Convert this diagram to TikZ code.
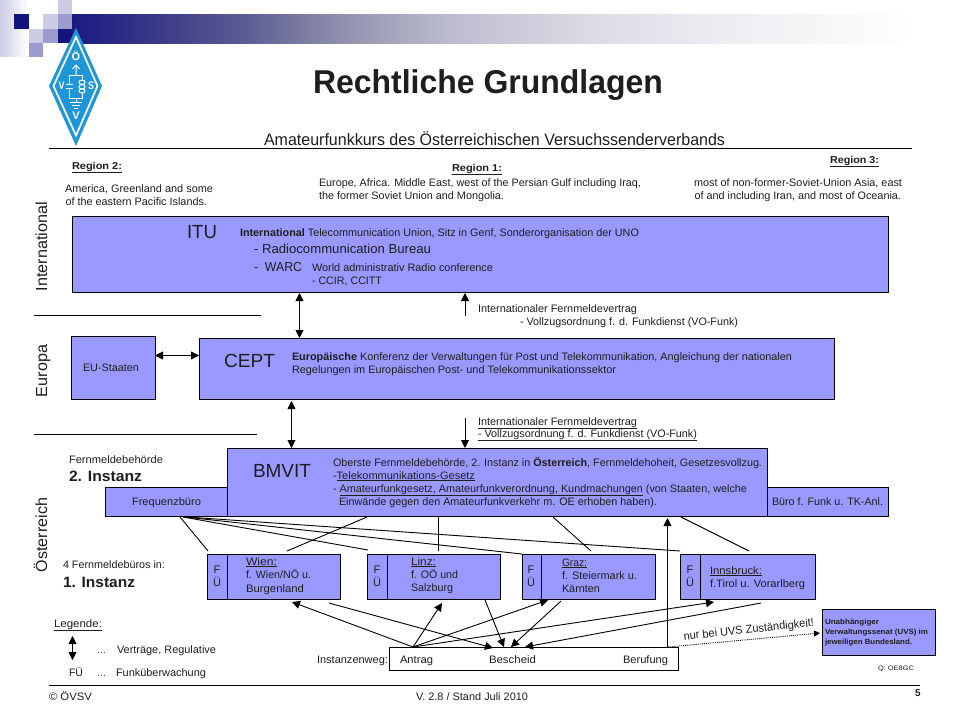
\documentclass[tikz,border=0pt]{standalone}
\usepackage{fontspec}
\usepackage{graphicx}
\setmainfont{Liberation Sans}
\usetikzlibrary{calc,arrows.meta}
\definecolor{boxblue}{HTML}{9999FF}
\definecolor{inktext}{HTML}{1E1E1E}
\definecolor{navy}{HTML}{14147F}
\definecolor{sqlight}{HTML}{CCCCE4}
\definecolor{sqmid}{HTML}{9C9CCE}
\definecolor{logoblue}{HTML}{1E96D8}
\definecolor{ga}{HTML}{1A1A80}
\definecolor{gb}{HTML}{5A5A92}
\definecolor{gc}{HTML}{9494B0}
\definecolor{gd}{HTML}{BCBCCF}
\definecolor{ge}{HTML}{DCDCE6}
\definecolor{gf}{HTML}{F0F0F4}
\pgfdeclarehorizontalshading{barshade}{100bp}{color(0bp)=(ga); color(25bp)=(ga); color(35bp)=(gb); color(41.5bp)=(gc); color(47.5bp)=(gd); color(56bp)=(ge); color(65.5bp)=(gf); color(75bp)=(white); color(100bp)=(white)}
\tikzset{
  boxshape/.style 2 args={draw=black,fill=boxblue,line width=1pt,rectangle,anchor=north west,inner sep=0pt,outer sep=0pt,minimum width=#1pt,minimum height=#2pt},
  txt/.style={anchor=base west,inner sep=0pt,outer sep=0pt,text=inktext},
  fuetext/.style={txt,anchor=base,font=\fontsize{11}{11}\selectfont},
  conn/.style={draw=black,line width=0.9pt},
  arr/.style={conn,-{Triangle[length=8pt,width=8pt]}},
  dbl/.style={conn,{Triangle[length=8pt,width=8pt]}-{Triangle[length=8pt,width=8pt]}},
  rulebar/.style={draw=black,line width=0.9pt},
  logoline/.style={draw=white,line width=1pt},
  logoletter/.style={font=\bfseries\fontsize{11}{11}\selectfont,text=white,inner sep=0pt},
}
% \lb[options]{name}{x}{baseline}{width}{size}{text}
\newcommand\lb[7][]{\node[txt,font=\fontsize{#6}{#6}\selectfont,#1] (#2) at (#3,#4) {\resizebox{#5pt}{\height}{#7}};}
\begin{document}
\begin{tikzpicture}[x=1pt,y=-1pt]
\useasboundingbox (0,0) rectangle (960,720);
\fill[white] (0,0) rectangle (960,720);
% header decoration
\shade[left color=sqlight,right color=white] (0,0) rectangle (28,56);
\fill[white] (14,14) rectangle (58,29);
\fill[navy] (14,14) rectangle (29,29);
\fill[sqlight] (43,14) rectangle (58,29);
\fill[sqlight] (58,0) rectangle (72,14);
\fill[sqmid] (58,14) rectangle (72,29);
\fill[sqlight] (29,29) rectangle (43,43);
\fill[sqmid] (43,29) rectangle (58,43);
\fill[navy] (58,29) rectangle (72,43);
\fill[sqmid] (29,43) rectangle (43,57);
\shade[shading=barshade] (72,14) rectangle (912,43);
% logo
\fill[logoblue] (76,28) -- (102,86) -- (76,146) -- (49,86) -- cycle;
\draw[white,line width=1.7pt] (76,37) -- (97.5,86) -- (76,135.5) -- (53.5,86) -- cycle;
\node[logoletter] (logoO) at (76,56) {Ö};
\node[logoletter] (logoV) at (61.5,86) {\resizebox{6pt}{\height}{V}};
\node[logoletter] (logoS) at (91,86) {\resizebox{6pt}{\height}{S}};
\node[logoletter] (logoW) at (76,116) {V};
\draw[logoline] (76,75) -- (76,65) (72.5,69) -- (76,65) -- (79.5,69);
\draw[logoline] (69,84.5) -- (69,75) -- (82,75) -- (82,80) (82,93) -- (82,98) -- (69,98) -- (69,88);
\draw[logoline] (65.5,84.5) -- (72.5,84.5) (65.5,88) -- (72.5,88);
\draw[logoline] (82,80) .. controls (86,80) and (86,84.5) .. (82,84.5) .. controls (78,84.5) and (78,80) .. (82,80)
  (82,84.5) .. controls (86,84.5) and (86,89) .. (82,89) .. controls (78,89) and (78,84.5) .. (82,84.5)
  (82,89) .. controls (86,89) and (86,93) .. (82,93) .. controls (78,93) and (78,89) .. (82,89);
\draw[logoline] (76,98) -- (76,102) (70,102) -- (82,102) (72,105) -- (80,105) (74,108) -- (78,108);
% title
\lb{title}{313}{93}{350}{33}{\textbf{Rechtliche Grundlagen}}
\lb{subtitle}{264}{145}{461}{16.5}{Amateurfunkkurs des Österreichischen Versuchssenderverbands}
\draw[rulebar] (49,148) -- (912,148);
% regions
\lb{reg2}{72}{169}{50}{10}{\textbf{\underline{Region 2:}}}
\lb{reg2a}{65}{192}{148}{10.8}{America, Greenland and some}
\lb{reg2b}{65.5}{205}{141.5}{10.8}{of the eastern Pacific Islands.}
\lb{reg1}{452}{171}{50}{10}{\textbf{\underline{Region 1:}}}
\lb{reg1a}{319}{186}{322}{10.8}{Europe, Africa. Middle East, west of the Persian Gulf including Iraq,}
\lb{reg1b}{319}{199}{185}{10.8}{the former Soviet Union and Mongolia.}
\lb{reg3}{830}{163}{49}{10}{\textbf{\underline{Region 3:}}}
\lb{reg3a}{694}{186}{208}{10.8}{most of non-former-Soviet-Union Asia, east}
\lb{reg3b}{694.5}{199}{206.5}{10.8}{of and including Iran, and most of Oceania.}
% side labels
\lb[rotate=90]{sideint}{47}{291}{89}{16}{International}
\lb[rotate=90]{sideeu}{47}{397}{52}{16}{Europa}
\lb[rotate=90]{sideat}{47}{572}{74}{16}{Österreich}
\draw[rulebar] (34,315) -- (261,315);
\draw[rulebar] (34,434) -- (257,434);
% boxes
\node[boxshape={816}{76}] (itu) at (72,216) {};
\node[boxshape={84}{63}] (eu) at (71,336) {};
\node[boxshape={635}{61}] (cept) at (199,338) {};
\node[boxshape={122}{29}] (freq) at (105,487) {};
\node[boxshape={121}{29}] (buero) at (767,487) {};
\node[boxshape={540}{68}] (bmvit) at (227,448) {};
\node[boxshape={20}{45}] (wienf) at (207,554) {};
\node[boxshape={113}{45}] (wien) at (227,554) {};
\node[boxshape={20}{45}] (linzf) at (367,554) {};
\node[boxshape={113}{45}] (linz) at (387,554) {};
\node[boxshape={19.5}{45}] (grazf) at (522,554) {};
\node[boxshape={113.5}{45}] (graz) at (541.5,554) {};
\node[boxshape={20}{45}] (innf) at (680,554) {};
\node[boxshape={115}{45}] (inn) at (700,554) {};
\node[boxshape={113}{46}] (uvs) at (822,609) {};
\node[boxshape={289}{23},fill=white] (inst) at (389,647) {};
% ITU text
\lb{itut}{187}{238}{30}{19}{ITU}
\lb{itu1}{240}{236}{399}{10.8}{\textbf{International} Telecommunication Union, Sitz in Genf, Sonderorganisation der UNO}
\lb{itu2}{254}{253}{177}{13}{- Radiocommunication Bureau}
\lb{itu3}{254}{271}{48}{13}{-\ \ WARC}
\lb{itu4}{312}{271}{181}{10.8}{World administrativ Radio conference}
\lb{itu5}{312}{284}{70}{10.8}{- CCIR, CCITT}
\lb{ifv1}{478}{312}{159}{10.8}{Internationaler Fernmeldevertrag}
\lb{ifv2}{520}{325}{218}{10.8}{- Vollzugsordnung f. d. Funkdienst (VO-Funk)}
% CEPT text
\lb{eut}{83}{371}{56}{10.8}{EU-Staaten}
\lb{ceptt}{224}{367}{51}{19}{CEPT}
\lb{cept1}{292}{360}{500}{10.8}{\textbf{Europäische} Konferenz der Verwaltungen für Post und Telekommunikation, Angleichung der nationalen}
\lb{cept2}{292}{373}{324}{10.8}{Regelungen im Europäischen Post- und Telekommunikationssektor}
\lb{ifv3}{478}{425}{159}{10.8}{\underline{Internationaler Fernmeldevertrag}}
\lb{ifv4}{478}{437}{219}{10.8}{\underline{- Vollzugsordnung f. d. Funkdienst (VO-Funk)}}
% Austria text
\lb{fmb}{69}{463}{94}{10.8}{Fernmeldebehörde}
\lb{inst2}{69}{481}{73}{15}{\textbf{2. Instanz}}
\lb{freqt}{132}{505}{69}{10.8}{Frequenzbüro}
\lb{bmvitt}{253}{477}{58}{19}{BMVIT}
\lb{bm1}{333}{466}{429}{10.8}{Oberste Fernmeldebehörde, 2. Instanz in \textbf{Österreich}, Fernmeldehoheit, Gesetzesvollzug.}
\lb{bm2}{333}{479}{142}{10.8}{-\underline{Telekommunikations-Gesetz}}
\lb{bm3}{333}{492}{414}{10.8}{- \underline{Amateurfunkgesetz, Amateurfunkverordnung, Kundmachungen} (von Staaten, welche}
\lb{bm4}{339}{505}{318}{10.8}{Einwände gegen den Amateurfunkverkehr m. OE erhoben haben).}
\lb{bueroT}{772}{505}{111}{10.8}{Büro f. Funk u. TK-Anl.}
\lb{fb4}{63}{568}{102}{10.8}{4 Fernmeldebüros in:}
\lb{inst1}{63}{587}{72}{15}{\textbf{1. Instanz}}
% FUE labels
\node[fuetext] (f1) at (217,573) {F};
\node[fuetext] (u1) at (217,586) {Ü};
\node[fuetext] (f2) at (377,573) {F};
\node[fuetext] (u2) at (377,586) {Ü};
\node[fuetext] (f3) at (531,573) {F};
\node[fuetext] (u3) at (531,586) {Ü};
\node[fuetext] (f4) at (690,573) {F};
\node[fuetext] (u4) at (690,586) {Ü};
\lb{wt1}{246}{565}{31}{10.8}{\underline{Wien:}}
\lb{wt2}{246}{578}{65}{10.8}{f. Wien/NÖ u.}
\lb{wt3}{246}{592}{58}{10.8}{Burgenland}
\lb{lt1}{411}{565}{25}{10.8}{\underline{Linz:}}
\lb{lt2}{411}{578}{47}{10.8}{f. OÖ und}
\lb{lt3}{411}{591}{42}{10.8}{Salzburg}
\lb{gt1}{562}{566}{25}{10.8}{\underline{Graz:}}
\lb{gt2}{562}{579}{75}{10.8}{f. Steiermark u.}
\lb{gt3}{562}{592}{38}{10.8}{Kärnten}
\lb{it1}{710}{574}{52}{10.8}{\underline{Innsbruck:}}
\lb{it2}{710}{587}{95}{10.8}{f.Tirol u. Vorarlberg}
% legend
\lb{leg}{54}{627}{48}{10.8}{\underline{Legende:}}
\coordinate (lega) at (72.5,636);
\coordinate (legb) at (72.5,660);
\draw[dbl] (lega) -- (legb);
\lb{ld1}{97}{653}{9}{10.8}{…}
\lb{lv}{117}{653}{99}{10.8}{Verträge, Regulative}
\lb{lfu}{69}{676}{14}{10.8}{FÜ}
\lb{ld2}{97}{676}{9}{10.8}{…}
\lb{lf}{116}{676}{90}{10.8}{Funküberwachung}
% instance path
\lb{iw}{317}{663}{71}{10.8}{Instanzenweg:}
\lb{ia}{400}{663}{33}{10.8}{Antrag}
\lb{ib}{489}{663}{47}{10.8}{Bescheid}
\lb{ic}{623}{663}{45}{10.8}{Berufung}
\lb[rotate=6]{nur}{684}{640}{131}{11.5}{nur bei UVS Zuständigkeit!}
\lb{uv1}{825}{624}{54}{7.5}{\textbf{Unabhängiger}}
\lb{uv2}{825}{634}{103}{7.5}{\textbf{Verwaltungssenat  (UVS) im}}
\lb{uv3}{825}{644}{87}{7.5}{\textbf{jeweiligen  Bundesland.}}
\lb{qq}{878}{670}{36}{6.5}{Q: OE8GC}
% connectors
\coordinate (vta) at (465,316);
\coordinate (vtb) at (465,418);
\draw[dbl] ($(itu.south west)+(227.5,1)$) -- ($(cept.north west)+(100.5,0)$);
\draw[arr] (vta) -- ($(itu.south west)+(393,1)$);
\draw[dbl] ($(eu.north east)+(0,19.5)$) -- ($(cept.north west)+(0,17.5)$);
\draw[dbl] ($(cept.south west)+(92.5,2)$) -- ($(bmvit.north west)+(64.5,0)$);
\draw[arr] (vtb) -- ($(bmvit.north west)+(238,0)$);
\draw[conn] ($(freq.south west)+(75,1)$) -- ($(wienf.north west)+(1,-3)$);
\draw[conn] ($(freq.south west)+(78,1)$) -- ($(linzf.north west)+(1,-4)$);
\draw[conn] ($(freq.south west)+(80,1)$) -- ($(grazf.north west)+(0,0)$);
\draw[conn] ($(freq.south west)+(82,1)$) -- ($(innf.north west)+(0,-3)$);
\draw[conn] ($(bmvit.south west)+(140,1)$) -- ($(wien.north west)+(60,-3)$);
\draw[conn] ($(bmvit.south west)+(211,1)$) -- ($(linz.north west)+(51,-3)$);
\draw[conn] ($(bmvit.south west)+(326,1)$) -- ($(graz.north west)+(49.5,-3)$);
\draw[conn] ($(bmvit.south west)+(454,1)$) -- ($(inn.north west)+(49,-3)$);
\draw[arr] ($(inst.north west)+(24,0)$) -- ($(wien.south west)+(65,3)$);
\draw[arr] ($(inst.north west)+(24,0)$) -- ($(linz.south west)+(55,4)$);
\draw[arr] ($(inst.north west)+(24,0)$) -- ($(graz.south west)+(6.5,1)$);
\draw[arr] ($(inst.north west)+(24,0)$) -- ($(inn.south west)+(14,3)$);
\draw[arr] ($(wien.south west)+(102,4)$) -- ($(inst.north west)+(104,1)$);
\draw[arr] ($(linz.south west)+(98,1)$) -- ($(inst.north west)+(115,0)$);
\draw[arr] ($(graz.south west)+(19.5,2)$) -- ($(inst.north west)+(122,0)$);
\draw[arr] ($(inn.south west)+(61,4)$) -- ($(inst.north west)+(136,0)$);
\draw[arr] ($(inst.north west)+(278.5,0)$) -- ($(bmvit.south west)+(440.5,2)$);
\draw[conn,densely dotted,line width=0.9pt,-{Triangle[length=6pt,width=6pt]}] ($(inst.north west)+(279,0)$) -- ($(uvs.north west)+(-2,24)$);
% footer
\draw[rulebar] (49,685) -- (920,685);
\lb{copy}{49}{700}{43}{10.8}{© ÖVSV}
\lb{ver}{416}{700}{112}{10.8}{V. 2.8 / Stand Juli 2010}
\lb{pg}{915}{696}{5.5}{10}{\textbf{5}}
\end{tikzpicture}
\end{document}
